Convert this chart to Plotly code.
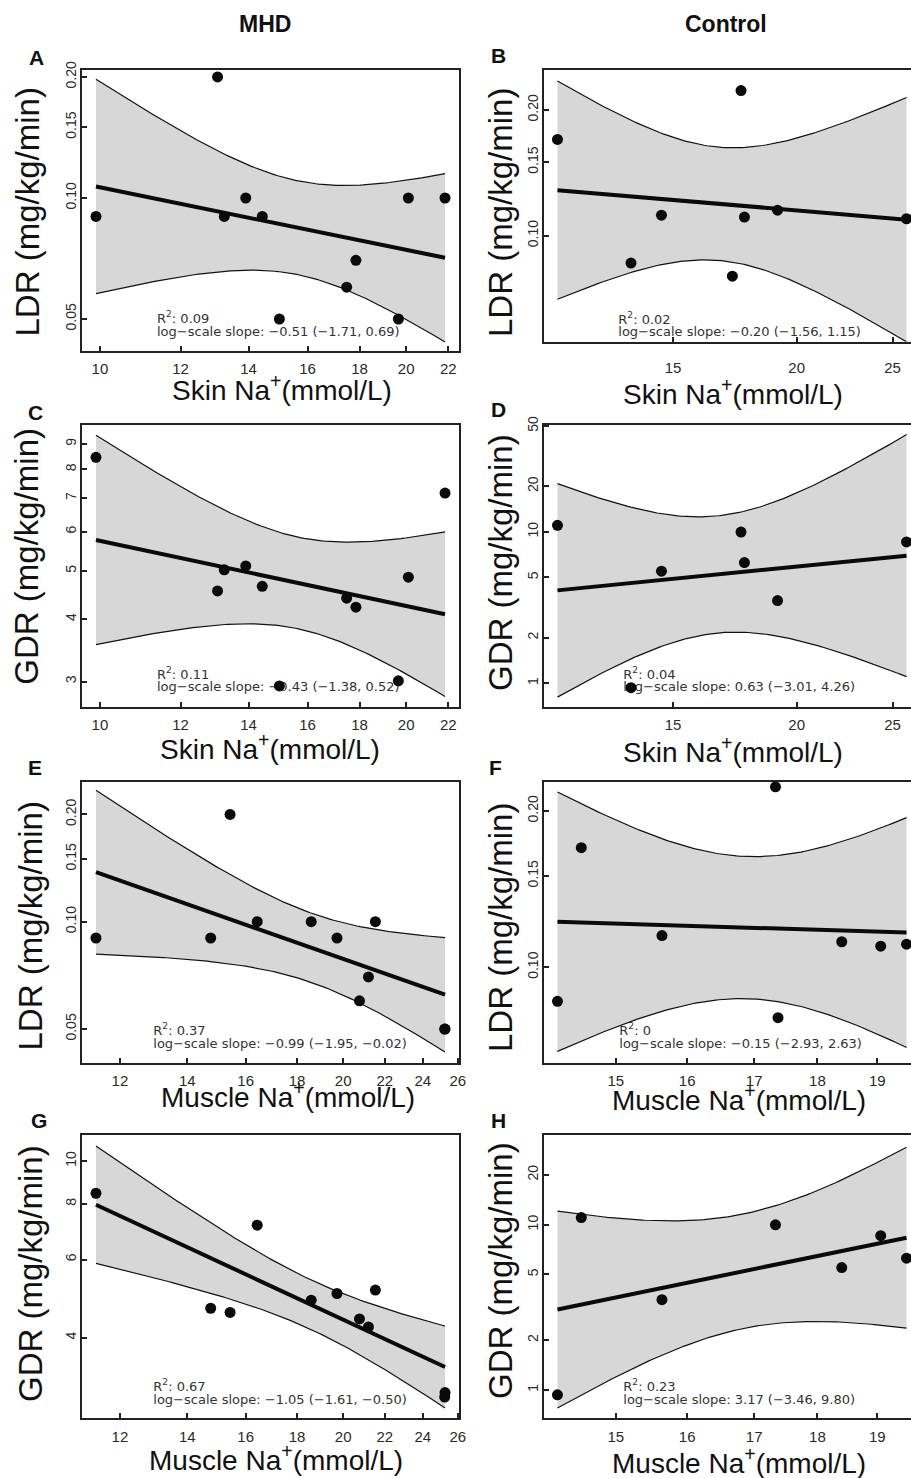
import numpy as np
import plotly.graph_objects as go

# ---------------- data ----------------
# MHD patients (one entry per patient)
mhd_skin_na = [9.91, 13.05, 13.25, 13.91, 14.44, 15.01, 17.48, 17.85, 19.65, 20.10, 21.84]
mhd_muscle_na = [11.36, 15.44, 19.72, 21.53, 14.77, 25.23, 20.76, 21.19, 25.25, 18.59, 16.43]
mhd_ldr = [0.090, 0.200, 0.090, 0.100, 0.090, 0.050, 0.060, 0.070, 0.050, 0.100, 0.100]
mhd_gdr = [8.46, 4.56, 5.03, 5.12, 4.66, 2.94, 4.41, 4.23, 3.01, 4.86, 7.17]

# Control subjects (one entry per subject; None = not measured)
ctl_skin_na = [11.46, 13.60, 14.60, 17.22, 17.57, 17.71, 19.13, 25.83]
ctl_muscle_na = [14.54, 14.23, 18.40, 17.37, 17.33, 19.51, 15.64, 19.06]
ctl_ldr = [0.170, 0.086, 0.112, 0.080, 0.2226, 0.1108, 0.1151, 0.1098]
ctl_gdr = [11.05, 0.935, 5.50, None, 9.98, 6.27, 3.52, 8.58]

# statistics printed in each panel
r2_text = ["0.09", "0.02", "0.11", "0.04", "0.37", "0", "0.67", "0.23"]
slope_text = ["−0.51 (−1.71, 0.69)", "−0.20 (−1.56, 1.15)",
              "−0.43 (−1.38, 0.52)", "0.63 (−3.01, 4.26)",
              "−0.99 (−1.95, −0.02)", "−0.15 (−2.93, 2.63)",
              "−1.05 (−1.61, −0.50)", "3.17 (−3.46, 9.80)"]

# tick values
ldr_ticks = [0.05, 0.10, 0.15, 0.20]
skin_mhd_ticks = [10, 12, 14, 16, 18, 20, 22]
skin_ctl_ticks = [15, 20, 25]
muscle_mhd_ticks = [12, 14, 16, 18, 20, 22, 24, 26]
muscle_ctl_ticks = [15, 16, 17, 18, 19]
gdr_c_ticks = [3, 4, 5, 6, 7, 8, 9]
gdr_d_ticks = [1, 2, 5, 10, 20, 50]
gdr_g_ticks = [4, 6, 8, 10]
gdr_h_ticks = [1, 2, 5, 10, 20]

# ---------------- layout constants ----------------
W, H = 911, 1478
COL_L = [82, 543.5]
PANEL_W = 377


def fx(x):
    return x / W


def fy(y):
    return 1 - y / H


T975 = {5: 2.571, 6: 2.447, 9: 2.262}


def fit_band(x, y, n_grid=120):
    pairs = [(a, b) for a, b in zip(x, y) if b is not None]
    lx = np.log10([p[0] for p in pairs])
    ly = np.log10([p[1] for p in pairs])
    n = len(lx)
    b, a = np.polyfit(lx, ly, 1)
    res = ly - (a + b * lx)
    s = np.sqrt(np.sum(res ** 2) / (n - 2))
    sxx = np.sum((lx - lx.mean()) ** 2)
    g = np.linspace(lx.min(), lx.max(), n_grid)
    fit = a + b * g
    se = s * np.sqrt(1.0 / n + (g - lx.mean()) ** 2 / sxx)
    t = T975[n - 2]
    return 10 ** g, 10 ** fit, 10 ** (fit + t * se), 10 ** (fit - t * se), pairs


LDR_T = "LDR (mg/kg/min)"
GDR_T = "GDR (mg/kg/min)"
SKIN_T = "Skin Na<sup>+</sup>(mmol/L)"
MUS_T = "Muscle Na<sup>+</sup>(mmol/L)"

panels = [
    dict(L="A", x=mhd_skin_na, y=mhd_ldr, col=0, top=70, bot=351, yr=[-1.3806, -0.6816],
         xt=skin_mhd_ticks, yt=ldr_ticks, yf="{:.2f}", yti=LDR_T, xti=SKIN_T,
         let=(36.5, 57.7), ytp=(27, 212.5), xtp=(282, 388), st=(157, 324, 337), so=3),
    dict(L="B", x=ctl_skin_na, y=ctl_ldr, col=1, top=70, bot=341.7, yr=[-1.2538, -0.6032],
         xt=skin_ctl_ticks, yt=ldr_ticks, yf="{:.2f}", yti=LDR_T, xti=SKIN_T,
         let=(499, 55.6), ytp=(500, 213), xtp=(733, 392), st=(618.3, 325, 337), so=11),
    dict(L="C", x=mhd_skin_na, y=mhd_gdr, col=0, top=425, bot=707.3, yr=[0.4254, 0.9922],
         xt=skin_mhd_ticks, yt=gdr_c_ticks, yf="{:d}", yti=GDR_T, xti=SKIN_T,
         let=(35.5, 412.6), ytp=(27, 556.7), xtp=(270, 747), st=(157, 680, 692.7), so=3),
    dict(L="D", x=ctl_skin_na, y=ctl_gdr, col=1, top=425, bot=707.3, yr=[-0.1585, 1.7061],
         xt=skin_ctl_ticks, yt=gdr_d_ticks, yf="{:d}", yti=GDR_T, xti=SKIN_T,
         let=(498.5, 409.6), ytp=(500, 563), xtp=(733, 750), st=(623.3, 680, 692.7), so=3),
    dict(L="E", x=mhd_muscle_na, y=mhd_ldr, col=0, top=781.7, bot=1062.7, yr=[-1.3955, -0.6073],
         xt=muscle_mhd_ticks, yt=ldr_ticks, yf="{:.2f}", yti=LDR_T, xti=MUS_T,
         let=(34.5, 767.6), ytp=(30, 926.5), xtp=(287.5, 1095), st=(153.3, 1036, 1049), so=3),
    dict(L="F", x=ctl_muscle_na, y=ctl_ldr, col=1, top=781.7, bot=1062.7, yr=[-1.1837, -0.6426],
         xt=muscle_ctl_ticks, yt=ldr_ticks, yf="{:.2f}", yti=LDR_T, xti=MUS_T,
         let=(495.5, 767.6), ytp=(500, 928), xtp=(738.7, 1098), st=(619.3, 1036, 1049), so=3),
    dict(L="G", x=mhd_muscle_na, y=mhd_gdr, col=0, top=1135, bot=1418.3, yr=[0.4205, 1.0586],
         xt=muscle_mhd_ticks, yt=gdr_g_ticks, yf="{:d}", yti=GDR_T, xti=MUS_T,
         let=(38.5, 1120.6), ytp=(30, 1274), xtp=(276, 1458), st=(153.3, 1392, 1405), so=4),
    dict(L="H", x=ctl_muscle_na, y=ctl_gdr, col=1, top=1135, bot=1418.3, yr=[-0.1712, 1.5426],
         xt=muscle_ctl_ticks, yt=gdr_h_ticks, yf="{:d}", yti=GDR_T, xti=MUS_T,
         let=(498.5, 1120.6), ytp=(500, 1271), xtp=(739, 1461), st=(623.3, 1392, 1405), so=4),
]

fig = go.Figure()
annotations = []
BAND = "#d7d7d7"
AX = "#222222"
TXT = "#111111"
TICKF = dict(family="Liberation Sans, Arial, sans-serif", size=15, color="#2a2a2a")
YTICKF = dict(family="Liberation Sans, Arial, sans-serif", size=14, color="#2a2a2a")
STATF = dict(family="DejaVu Sans", size=13, color="#333333")

for i, p in enumerate(panels):
    k = "" if i == 0 else str(i + 1)
    xa, ya = "x" + k, "y" + k
    gx, gfit, gup, glo, pairs = fit_band(p["x"], p["y"])

    # x range: R default (4% padding on log scale); right column cut by figure edge
    lo = np.log10(min(p["x"]))
    hi = np.log10(max(p["x"]))
    pad = 0.04 * (hi - lo)
    lo, hi = lo - pad, hi + pad
    left = COL_L[p["col"]]
    if p["col"] == 0:
        right = left + PANEL_W
        xr = [lo, hi]
    else:
        right = W
        xr = [lo, lo + (hi - lo) * (W - left) / PANEL_W]
    dom_x = [fx(left), fx(right)]

    # confidence band
    fig.add_trace(go.Scatter(x=list(gx) + list(gx[::-1]), y=list(gup) + list(glo[::-1]),
                             fill="toself", fillcolor=BAND, mode="lines",
                             line=dict(width=0, color=BAND), hoverinfo="skip",
                             showlegend=False, xaxis=xa, yaxis=ya))
    for band in (gup, glo):
        fig.add_trace(go.Scatter(x=gx, y=band, mode="lines",
                                 line=dict(color="#111111", width=1.2),
                                 hoverinfo="skip", showlegend=False, xaxis=xa, yaxis=ya))
    # regression line
    fig.add_trace(go.Scatter(x=gx, y=gfit, mode="lines",
                             line=dict(color="#0a0a0a", width=4),
                             hoverinfo="skip", showlegend=False, xaxis=xa, yaxis=ya))

    # statistics text (placed in the panel, drawn beneath the points)
    sx, b1, b2 = p["st"]
    tx = 10 ** (xr[0] + (sx - left) / (right - left) * (xr[1] - xr[0]))
    ty = [10 ** (p["yr"][0] + (p["bot"] - (b - 4.5)) / (p["bot"] - p["top"]) *
                 (p["yr"][1] - p["yr"][0])) for b in (b1, b2)]
    fig.add_trace(go.Scatter(x=[tx, tx], y=ty, mode="text",
                             text=["R<sup>2</sup>: " + r2_text[i],
                                   "log−scale slope: " + slope_text[i]],
                             textposition="middle right", textfont=STATF,
                             hoverinfo="skip", showlegend=False, cliponaxis=False,
                             xaxis=xa, yaxis=ya))

    # observations
    fig.add_trace(go.Scatter(x=[q[0] for q in pairs], y=[q[1] for q in pairs], mode="markers",
                             marker=dict(color="#0a0a0a", size=11),
                             showlegend=False, xaxis=xa, yaxis=ya))

    fig.layout["xaxis" + k] = dict(
        domain=dom_x, anchor=ya, type="log", range=xr, automargin=False,
        tickvals=p["xt"], ticktext=[str(v) for v in p["xt"]],
        ticks="inside", ticklen=5, tickwidth=1.5, tickcolor=AX,
        showline=True, linecolor=AX, linewidth=2, mirror=True,
        showgrid=False, zeroline=False, tickfont=TICKF,
        ticklabelstandoff=p["so"], fixedrange=True)
    fig.layout["yaxis" + k] = dict(
        domain=[fy(p["bot"]), fy(p["top"])], anchor=xa, type="log", range=p["yr"],
        automargin=False,
        tickvals=p["yt"], ticktext=[p["yf"].format(v) for v in p["yt"]],
        ticks="inside", ticklen=5, tickwidth=1.5, tickcolor=AX, tickangle=-90,
        showline=True, linecolor=AX, linewidth=2, mirror=(p["col"] == 0),
        showgrid=False, zeroline=False, tickfont=YTICKF,
        ticklabelstandoff=-2, fixedrange=True)

    # panel letter
    annotations.append(dict(x=fx(p["let"][0]), y=fy(p["let"][1]), xref="paper", yref="paper",
                            text="<b>" + p["L"] + "</b>", showarrow=False,
                            xanchor="center", yanchor="middle",
                            font=dict(family="Liberation Sans, Arial", size=21, color=TXT)))
    # y title
    annotations.append(dict(x=fx(p["ytp"][0]), y=fy(p["ytp"][1]), xref="paper", yref="paper",
                            text=p["yti"], showarrow=False, textangle=-90,
                            xanchor="center", yanchor="middle",
                            font=dict(family="Liberation Sans, Arial", size=33, color=TXT)))
    # x title
    annotations.append(dict(x=fx(p["xtp"][0]), y=fy(p["xtp"][1]), xref="paper", yref="paper",
                            text=p["xti"], showarrow=False,
                            xanchor="center", yanchor="middle",
                            font=dict(family="Liberation Sans, Arial", size=28, color=TXT)))

# column headers
for txt, cx in (("MHD", 265), ("Control", 726)):
    annotations.append(dict(x=fx(cx), y=fy(23.8), xref="paper", yref="paper",
                            text="<b>" + txt + "</b>", showarrow=False,
                            xanchor="center", yanchor="middle",
                            font=dict(family="Liberation Sans, Arial", size=23, color=TXT)))

fig.update_layout(width=W, height=H,
                  margin=dict(l=0, r=0, t=0, b=0, pad=0, autoexpand=False),
                  paper_bgcolor="white", plot_bgcolor="white",
                  annotations=annotations, showlegend=False)

PIN_TO_ORIGIN = (
    "document.documentElement.style.margin='0';"
    "document.body.style.margin='0';document.body.style.padding='0';"
    "document.body.style.overflow='hidden';"
    "var gd=document.querySelector('.plotly-graph-div');"
    "gd.style.position='fixed';gd.style.left='0px';gd.style.top='0px';"
)

fig.write_html("out.html", config={"displayModeBar": False}, post_script=PIN_TO_ORIGIN)
